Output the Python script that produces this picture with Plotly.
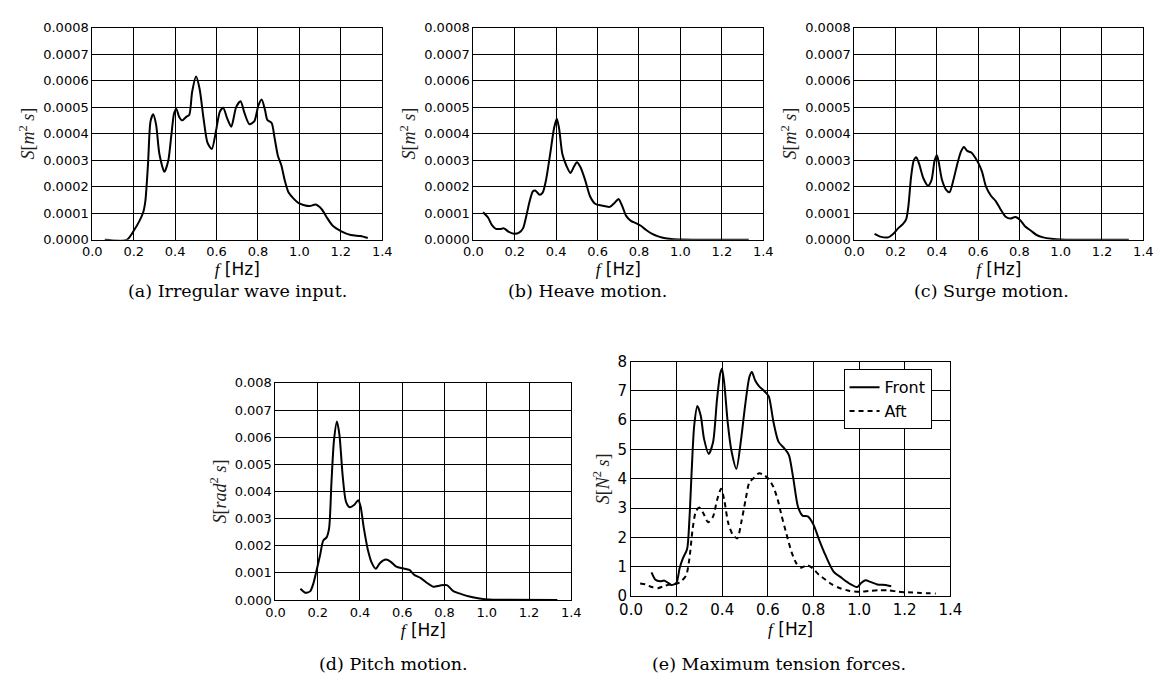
import plotly.graph_objects as go

# ---------------- data ----------------
wave_f = [0.06, 0.166, 0.2, 0.245, 0.256, 0.269, 0.281, 0.294, 0.308, 0.324, 0.348, 0.367, 0.382, 0.395,
          0.406, 0.419, 0.434, 0.455, 0.468, 0.482, 0.501, 0.518, 0.537, 0.556, 0.577, 0.597, 0.616,
          0.632, 0.651, 0.671, 0.695, 0.716, 0.735, 0.758, 0.782, 0.802, 0.818, 0.834, 0.845, 0.866,
          0.88, 0.896, 0.913, 0.929, 0.948, 0.972, 0.995, 1.024, 1.05, 1.079, 1.106, 1.13, 1.161,
          1.2, 1.248, 1.295, 1.33]
wave_S = [0.0, 0.0, 0.34, 1.02, 1.45, 2.86, 4.46, 4.73, 4.34, 3.23, 2.56, 2.99, 3.97, 4.77,
          4.93, 4.64, 4.50, 4.64, 4.70, 5.57, 6.15, 5.69, 4.58, 3.66, 3.42, 4.09, 4.83,
          4.98, 4.58, 4.26, 5.01, 5.22, 4.77, 4.36, 4.46, 5.07, 5.29, 4.89, 4.52, 4.40,
          3.85, 3.17, 2.80, 2.25, 1.78, 1.55, 1.39, 1.30, 1.27, 1.33, 1.17, 0.87, 0.53,
          0.33, 0.18, 0.14, 0.07]  # x 1e-4

heave_f = [0.047, 0.071, 0.09, 0.109, 0.13, 0.148, 0.169, 0.196, 0.221, 0.24, 0.256, 0.272, 0.287,
           0.299, 0.319, 0.335, 0.351, 0.371, 0.39, 0.403, 0.414, 0.43, 0.449, 0.469, 0.485, 0.5,
           0.517, 0.54, 0.564, 0.588, 0.619, 0.659, 0.682, 0.701, 0.719, 0.738, 0.761, 0.785,
           0.809, 0.833, 0.864, 0.896, 0.927, 0.967, 1.006, 1.1, 1.33]
heave_S = [1.04, 0.84, 0.55, 0.41, 0.41, 0.43, 0.31, 0.23, 0.27, 0.43, 0.90, 1.45, 1.82,
           1.86, 1.70, 1.78, 2.25, 3.23, 4.21, 4.56, 4.21, 3.23, 2.80, 2.52, 2.74, 2.92,
           2.74, 2.25, 1.63, 1.36, 1.29, 1.24, 1.39, 1.54, 1.27, 0.90, 0.71, 0.63,
           0.53, 0.38, 0.22, 0.12, 0.06, 0.02, 0.01, 0.0, 0.0]  # x 1e-4

surge_f = [0.098, 0.125, 0.164, 0.188, 0.212, 0.235, 0.251, 0.262, 0.275, 0.288, 0.3, 0.314, 0.335,
           0.357, 0.374, 0.389, 0.4, 0.409, 0.425, 0.445, 0.461, 0.48, 0.499, 0.517, 0.531, 0.547,
           0.567, 0.583, 0.603, 0.619, 0.638, 0.662, 0.686, 0.709, 0.733, 0.757, 0.78, 0.804,
           0.828, 0.856, 0.883, 0.915, 0.954, 1.0, 1.33]
surge_S = [0.22, 0.12, 0.09, 0.22, 0.43, 0.59, 0.77, 1.27, 2.37, 2.99, 3.11, 2.86, 2.31,
           2.04, 2.25, 2.99, 3.19, 2.92, 2.25, 1.88, 1.79, 2.25, 2.86, 3.33, 3.50, 3.35,
           3.29, 3.13, 2.86, 2.56, 2.00, 1.66, 1.45, 1.14, 0.87, 0.80, 0.86, 0.74,
           0.50, 0.34, 0.18, 0.09, 0.04, 0.01, 0.0]  # x 1e-4

pitch_f = [0.118, 0.142, 0.165, 0.18, 0.195, 0.211, 0.226, 0.242, 0.254, 0.265, 0.277, 0.291, 0.303,
           0.318, 0.334, 0.352, 0.372, 0.392, 0.403, 0.418, 0.438, 0.457, 0.475, 0.495, 0.523,
           0.546, 0.572, 0.603, 0.634, 0.657, 0.688, 0.718, 0.749, 0.78, 0.811, 0.842, 0.88,
           0.918, 0.965, 1.011, 1.072, 1.334]
pitch_S = [0.42, 0.27, 0.33, 0.63, 1.11, 1.65, 2.19, 2.31, 2.66, 4.34, 5.89, 6.58, 6.07,
           4.58, 3.62, 3.42, 3.50, 3.68, 3.44, 2.66, 1.83, 1.35, 1.15, 1.37, 1.49,
           1.41, 1.23, 1.17, 1.11, 0.93, 0.81, 0.63, 0.49, 0.54, 0.55, 0.33, 0.22,
           0.13, 0.06, 0.02, 0.01, 0.0]  # x 1e-3

front_f = [0.09, 0.107, 0.128, 0.146, 0.163, 0.178, 0.199, 0.213, 0.227, 0.246, 0.256, 0.266, 0.277,
           0.291, 0.306, 0.32, 0.341, 0.36, 0.377, 0.391, 0.399, 0.409, 0.424, 0.441, 0.462, 0.483,
           0.5, 0.519, 0.53, 0.544, 0.561, 0.587, 0.604, 0.625, 0.647, 0.672, 0.692, 0.711, 0.732,
           0.753, 0.775, 0.8, 0.824, 0.853, 0.888, 0.924, 0.96, 0.992, 1.009, 1.028, 1.052, 1.08,
           1.116, 1.141]
front_S = [0.81, 0.56, 0.51, 0.53, 0.45, 0.38, 0.45, 0.95, 1.28, 1.61, 2.61, 4.27, 5.81,
           6.48, 6.14, 5.37, 4.85, 5.26, 6.70, 7.58, 7.75, 7.25, 5.92, 4.93, 4.34, 5.37,
           6.48, 7.47, 7.64, 7.36, 7.16, 6.97, 6.81, 5.92, 5.26, 5.04, 4.82, 4.04, 3.05,
           2.74, 2.72, 2.44, 1.94, 1.39, 0.84, 0.62, 0.42, 0.31, 0.45, 0.54, 0.48, 0.40,
           0.38, 0.34]

aft_f = [0.04, 0.064, 0.092, 0.118, 0.142, 0.171, 0.199, 0.22, 0.242, 0.256, 0.27, 0.284, 0.299,
         0.317, 0.338, 0.36, 0.377, 0.395, 0.409, 0.426, 0.445, 0.466, 0.483, 0.502, 0.519, 0.54,
         0.561, 0.583, 0.604, 0.625, 0.644, 0.661, 0.682, 0.704, 0.725, 0.746, 0.772, 0.796,
         0.824, 0.853, 0.881, 0.917, 0.959, 1.0, 1.045, 1.087, 1.13, 1.173, 1.215, 1.272, 1.336]
aft_S = [0.43, 0.40, 0.31, 0.27, 0.34, 0.40, 0.42, 0.51, 0.71, 1.28, 2.28, 2.88, 3.02,
         2.83, 2.52, 2.72, 3.27, 3.66, 3.27, 2.50, 2.11, 1.97, 2.50, 3.27, 3.88, 4.04,
         4.19, 4.13, 3.99, 3.71, 3.27, 2.72, 2.11, 1.50, 1.12, 0.97, 1.06, 0.95,
         0.73, 0.56, 0.40, 0.27, 0.18, 0.15, 0.18, 0.20, 0.20, 0.15, 0.13, 0.11, 0.09]

x_ticks = [0.0, 0.2, 0.4, 0.6, 0.8, 1.0, 1.2, 1.4]
captions = ["(a) Irregular wave input.", "(b) Heave motion.", "(c) Surge motion.",
            "(d) Pitch motion.", "(e) Maximum tension forces."]

# ---------------- layout helpers ----------------
W, H = 1168, 686
def xd(a, b):
    return [a / W, b / W]
def yd(top, bot):
    return [1 - bot / H, 1 - top / H]

panels = [
    dict(x=(82, 378), y=(19, 237), ymax=0.0008, dy=0.0001, fmt=".4f", tf=13,
         ylab="<i>S</i>[<i>m</i><sup>2</sup> <i>s</i>]"),
    dict(x=(471, 767), y=(19, 237), ymax=0.0008, dy=0.0001, fmt=".4f", tf=13,
         ylab="<i>S</i>[<i>m</i><sup>2</sup> <i>s</i>]"),
    dict(x=(860, 1155), y=(19, 237), ymax=0.0008, dy=0.0001, fmt=".4f", tf=13,
         ylab="<i>S</i>[<i>m</i><sup>2</sup> <i>s</i>]"),
    dict(x=(269, 571), y=(384, 607), ymax=0.008, dy=0.001, fmt=".3f", tf=13,
         ylab="<i>S</i>[<i>rad</i><sup>2</sup> <i>s</i>]"),
    dict(x=(632, 958), y=(362, 603), ymax=8, dy=1, fmt="d", tf=15,
         ylab="<i>S</i>[<i>N</i><sup>2</sup> <i>s</i>]"),
]

fig = go.Figure()
line = dict(color="black", width=2)

series = [
    (wave_f, [v * 1e-4 for v in wave_S]),
    (heave_f, [v * 1e-4 for v in heave_S]),
    (surge_f, [v * 1e-4 for v in surge_S]),
    (pitch_f, [v * 1e-3 for v in pitch_S]),
]
for i, (fx, fy) in enumerate(series):
    ax = "" if i == 0 else str(i + 1)
    fig.add_trace(go.Scatter(x=fx, y=fy, mode="lines", line=dict(**line, shape="spline", smoothing=0.7),
                             xaxis="x" + ax, yaxis="y" + ax, showlegend=False))
fig.add_trace(go.Scatter(x=front_f, y=front_S, mode="lines", name="Front",
                         line=dict(**line, shape="spline", smoothing=0.7), xaxis="x5", yaxis="y5"))
fig.add_trace(go.Scatter(x=aft_f, y=aft_S, mode="lines", name="Aft",
                         line=dict(color="black", width=2, dash="5px,4px", shape="spline", smoothing=0.7),
                         xaxis="x5", yaxis="y5"))

xtitle = "<span style='font-family:Liberation Serif;font-style:italic'>f</span> [Hz]"
for i, p in enumerate(panels):
    k = "" if i == 0 else str(i + 1)
    tickfont = dict(family="DejaVu Sans", size=p["tf"], color="black")
    fig.layout["xaxis" + k] = dict(
        domain=xd(*p["x"]), range=[0, 1.4], tickvals=x_ticks, tickformat=".1f",
        showgrid=True, gridcolor="black", gridwidth=1, showline=True, linecolor="black",
        linewidth=1, mirror=True, ticks="", zeroline=False, tickfont=tickfont,
        anchor="y" + k, fixedrange=True,
        title=dict(text=xtitle, font=dict(family="DejaVu Sans", size=17, color="black"), standoff=1),
    )
    nt = int(round(p["ymax"] / p["dy"]))
    yt = [j * p["dy"] for j in range(nt + 1)]
    fig.layout["yaxis" + k] = dict(
        domain=yd(*p["y"]), range=[0, p["ymax"]], tickvals=yt, tickformat=p["fmt"],
        showgrid=True, gridcolor="black", gridwidth=1, showline=True, linecolor="black",
        linewidth=1, mirror=True, ticks="", zeroline=False, tickfont=tickfont,
        anchor="x" + k, fixedrange=True,
        title=dict(text=p["ylab"], font=dict(family="Liberation Serif", size=18, color="#222"), standoff=3),
    )

cap_pos = [(230, 290), (588, 290), (1000, 290), (390, 673), (783, 673)]
for txt, (cx, cy) in zip(captions, cap_pos):
    fig.add_annotation(text=txt, x=cx / W, y=1 - cy / H, xref="paper", yref="paper",
                       showarrow=False, xanchor="center", yanchor="middle",
                       font=dict(family="DejaVu Serif", size=17.5, color="black"))

fig.update_layout(
    width=W, height=H, margin=dict(l=0, r=0, t=0, b=0),
    paper_bgcolor="white", plot_bgcolor="white",
    legend=dict(x=849 / W, y=1 - 370 / H, xanchor="left", yanchor="top",
                bordercolor="black", borderwidth=1, bgcolor="white",
                font=dict(family="DejaVu Sans", size=16, color="black"),
                itemwidth=30, tracegroupgap=0),
)

fig.write_html("out.html")
